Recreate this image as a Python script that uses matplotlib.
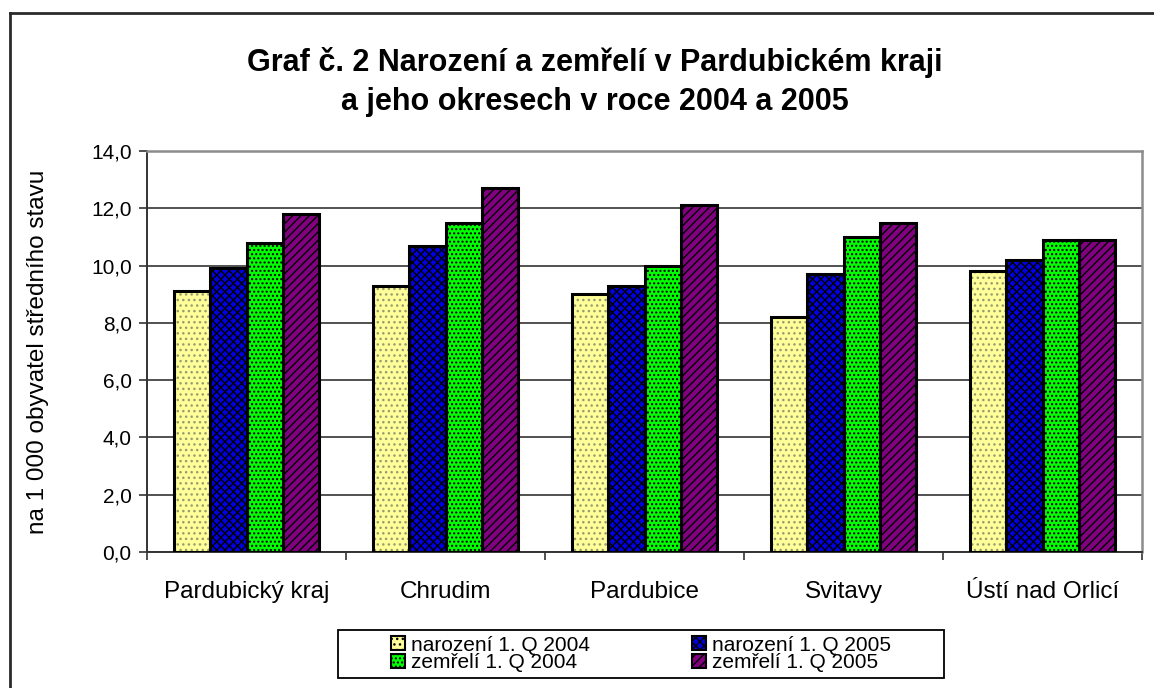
import numpy as np
import matplotlib
matplotlib.use("Agg")
import matplotlib.pyplot as plt
from matplotlib.patches import Rectangle, Patch
from matplotlib.lines import Line2D

plt.rcParams["font.family"] = ["Liberation Sans", "DejaVu Sans"]

# data
regions = ["Pardubický kraj", "Chrudim", "Pardubice", "Svitavy", "Ústí nad Orlicí"]
born_2004 = [9.1, 9.3, 9.0, 8.2, 9.8]
born_2005 = [9.9, 10.7, 9.3, 9.7, 10.2]
died_2004 = [10.8, 11.5, 10.0, 11.0, 10.9]
died_2005 = [11.8, 12.7, 12.1, 11.5, 10.9]
series_labels = ["narození 1. Q 2004", "narození 1. Q 2005",
                 "zemřelí 1. Q 2004", "zemřelí 1. Q 2005"]
yticks = np.arange(0, 14.1, 2)

# face colour, hatch colour, hatch pattern
styles = [
    ("#FFFF99", "#9a9a70", "..."),
    ("#0000E0", "black", "xxxx"),
    ("#00FF00", "black", "...."),
    ("#800080", "black", "////"),
]

fig = plt.figure(figsize=(11.54, 6.88), dpi=100)
ax = fig.add_axes([147 / 1154, 1 - 552 / 688, (1142 - 147) / 1154, (552 - 151) / 688])

x = np.arange(len(regions))
w = 0.183
series = [born_2004, born_2005, died_2004, died_2005]
plt.rcParams["hatch.linewidth"] = 1.0
for i, (vals, (fc, hc, hatch)) in enumerate(zip(series, styles)):
    pos = x + (i - 1.5) * w
    ax.bar(pos, vals, w, color=fc, edgecolor=hc, hatch=hatch, linewidth=0, zorder=3)
    ax.bar(pos, vals, w, fill=False, edgecolor="black", linewidth=2.2, zorder=4)

ax.set_xlim(-0.5, len(regions) - 0.5)
ax.set_ylim(0, 14)
ax.set_yticks(yticks)
ax.set_yticklabels([f"{v:.1f}".replace(".", ",") for v in yticks], fontsize=15)
ax.set_xticks(x)
ax.set_xticklabels(regions, fontsize=17.5)
ax.set_xticks(np.arange(-0.5, len(regions)), minor=True)
ax.tick_params(axis="x", which="major", length=0, pad=21)
ax.tick_params(axis="x", which="minor", length=6, width=1.2, direction="out", color="#333333")
ax.tick_params(axis="y", length=6, width=1.2, direction="out", color="#333333", pad=5)
ax.grid(axis="y", color="#222222", linewidth=1.1, zorder=1)
ax.set_axisbelow(True)

for side in ["top", "right"]:
    ax.spines[side].set_color("#8c8c8c")
    ax.spines[side].set_linewidth(1.8)
for side in ["left", "bottom"]:
    ax.spines[side].set_color("#333333")
    ax.spines[side].set_linewidth(1.4)

ax.set_ylabel("na 1 000 obyvatel středního stavu", fontsize=17.5)
ax.yaxis.set_label_coords(-0.098, 0.5)

fig.text(0.5156, 1 - 62 / 688, "Graf č. 2 Narození a zemřelí v Pardubickém kraji",
         ha="center", va="center", fontsize=22, fontweight="bold")
fig.text(0.5156, 1 - 102 / 688, "a jeho okresech v roce 2004 a 2005",
         ha="center", va="center", fontsize=22, fontweight="bold")

# outer chart frame (only top and left edges are inside the image)
fig.add_artist(Line2D([10 / 1154, 1.0], [1 - 13 / 688, 1 - 13 / 688],
                      color="#2a2a2a", linewidth=2.0, transform=fig.transFigure))
fig.add_artist(Line2D([10 / 1154, 10 / 1154], [0, 1 - 13 / 688],
                      color="#2a2a2a", linewidth=2.0, transform=fig.transFigure))

# legend box
lx0, lx1, ly0, ly1 = 338 / 1154, 944 / 1154, 1 - 678 / 688, 1 - 630 / 688
fig.add_artist(Rectangle((lx0, ly0), lx1 - lx0, ly1 - ly0, fill=False,
                         edgecolor="black", linewidth=1.3, transform=fig.transFigure))
handles = [Patch(facecolor=fc, edgecolor="black", hatch=h, linewidth=1.5)
           for fc, hc, h in styles]
order = [0, 2, 1, 3]
fig.legend([handles[i] for i in order], [series_labels[i] for i in order],
           ncol=2, loc="center", bbox_to_anchor=((lx0 + lx1) / 2, (ly0 + ly1) / 2),
           frameon=False, fontsize=15, handlelength=0.65, handleheight=0.65,
           handletextpad=0.3, columnspacing=4.9, labelspacing=-0.05, borderpad=0)

fig.savefig("out.png", dpi=100)
